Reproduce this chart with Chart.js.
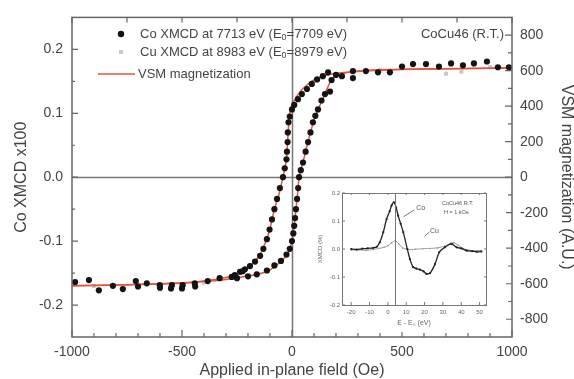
<!DOCTYPE html>
<html><head><meta charset="utf-8">
<script src="https://cdn.jsdelivr.net/npm/chart.js@4.4.1/dist/chart.umd.min.js"></script>
<style>
html,body{margin:0;padding:0;background:#fff;}
#wrap{position:relative;width:574px;height:379px;overflow:hidden;}
#main{position:absolute;left:0;top:0;}
#inset{position:absolute;left:312px;top:186px;background:#fff;}
</style></head><body>
<div id="wrap"><canvas id="main" width="574" height="379"></canvas><canvas id="inset" width="194" height="146"></canvas></div>
<script>
// ---------- data ----------
const fieldTicks = [-1000, -500, 0, 500, 1000];
const xmcdTicks = [-0.2, -0.1, 0, 0.1, 0.2];
const vsmTicks = [-800, -600, -400, -200, 0, 200, 400, 600, 800];

const coH = [986,936,886,827,777,723,668,609,550,500,445,391,336,277,277,227,200,
  164,140,114,90,68,45,27,10,0,-10,-16,-19,-20,-23,-25,-33,-41,-55,-68,-80,-91,-102,-114,-130,-145,-168,-191,-214,-236,-260,
  -250,-200,-160,-114,-80,-50,-25,-10,0,6,10,14,18,23,28,32,40,50,62,73,84,95,106,118,134,150,173,180,
  -224,-274,-329,-383,-442,-497,-546,-601,-660,-710,-769,-814,-878,-923,-986,-440,-500,-550,-600,-700];
const coV = [0.172,0.172,0.181,0.178,0.175,0.178,0.173,0.177,0.177,0.173,0.164,0.164,0.166,0.166,0.155,0.158,0.160,
  0.164,0.158,0.153,0.146,0.138,0.130,0.122,0.113,0.106,0.095,0.086,0.070,0.055,0.040,0.028,0.014,0.0,-0.017,-0.034,-0.050,-0.066,-0.082,-0.097,-0.112,-0.123,-0.132,-0.139,-0.144,-0.148,-0.153,
  -0.158,-0.155,-0.152,-0.146,-0.138,-0.131,-0.121,-0.112,-0.100,-0.088,-0.076,-0.064,-0.050,-0.034,-0.017,0.0,0.011,0.023,0.040,0.055,0.070,0.086,0.096,0.106,0.120,0.130,0.134,0.152,
  -0.147,-0.156,-0.158,-0.1625,-0.166,-0.169,-0.169,-0.169,-0.166,-0.1625,-0.175,-0.170,-0.177,-0.161,-0.164,-0.171,-0.174,-0.174,-0.173,-0.171];

const cuH = [-900,-700,-400,400,700,770,900];
const cuV = [-0.170,-0.168,-0.165,0.168,0.162,0.165,0.172];

const vsmDownH = [1000,800,600,400,300,200,150,100,50,20,0,-12,-18,-24,-32,-41,-60,-80,-100,-120,-150,-200,-250,-300,-400,-500,-700,-1000];
const vsmDownM = [615,612,610,602,596,586,572,548,500,452,405,350,240,120,50,0,-100,-180,-290,-365,-445,-510,-545,-565,-585,-595,-605,-612];
const vsmUpH = [-1000,-700,-500,-400,-300,-200,-150,-100,-50,-20,0,6,10,14,18,23,28,32,50,73,100,120,150,175,200,250,300,400,600,800,1000];
const vsmUpM = [-612,-605,-597,-588,-576,-556,-545,-522,-475,-430,-360,-315,-275,-230,-180,-122,-60,0,85,200,320,385,470,540,572,590,598,605,610,612,615];

// inset (spectra)
const energyTicks = [-20,-10,0,10,20,30,40,50];
const insetYTicks = [-0.2,-0.1,0.0,0.1,0.2];
const coE = [-20,-17,-14,-11,-8,-6,-4.4,-2.5,-0.7,1,2,3.3,4.5,5.6,7,8.4,10.6,12,13.8,15.5,17.5,19.5,21.1,23,25.7,28,31.1,34.8,37.5,40,43,46,48.5,51];
const coSpec = [0,-0.002,0.001,0.002,0.004,0.008,0.024,0.06,0.107,0.135,0.155,0.167,0.148,0.119,0.09,0.06,0.0,-0.036,-0.065,-0.07,-0.074,-0.08,-0.089,-0.086,-0.054,-0.012,0.006,0.018,0.006,0.002,-0.006,-0.008,-0.01,-0.009];
const cuE = [-20,-16,-12,-8,-5,-2,0,2,4,6,8,11,15,19,23,27,31,34,36,38,41,45,49,51];
const cuSpec = [-0.004,-0.003,-0.005,-0.002,0.002,0.006,0.012,0.022,0.03,0.018,0.004,-0.002,-0.001,0.001,0.002,0.004,0.01,0.02,0.022,0.015,0.002,-0.005,-0.006,-0.006];

// ---------- helpers ----------
const FONT = "'Liberation Sans', Arial, Helvetica, sans-serif";
const TXT = '#444';
const pts = (xs, ys) => xs.map((v, i) => ({x: v, y: ys[i]}));
const setTicks = arr => s => { s.ticks = arr.map(v => ({value: v})); };

const mainDecor = {
  id: 'mainDecor',
  beforeDatasetsDraw(c) {
    const {ctx, chartArea: a, scales: {x, y}} = c;
    ctx.save();
    ctx.strokeStyle = '#777'; ctx.lineWidth = 1.5;
    const y0 = Math.round(y.getPixelForValue(0)) + 0.5, x0 = Math.round(x.getPixelForValue(0)) + 0.5;
    ctx.beginPath();
    ctx.moveTo(a.left, y0); ctx.lineTo(a.right, y0);
    ctx.moveTo(x0, a.top); ctx.lineTo(x0, a.bottom);
    ctx.stroke();
    ctx.restore();
  },
  afterDatasetsDraw(c) {
    const {ctx, chartArea: a, scales: {x, y, y2}} = c;
    ctx.save();
    ctx.strokeStyle = '#666'; ctx.lineWidth = 1.5;
    ctx.strokeRect(a.left, a.top, a.right - a.left, a.bottom - a.top);
    ctx.lineWidth = 1.2;
    ctx.beginPath();
    for (let v = -1000; v <= 1000; v += 100) {
      const px = x.getPixelForValue(v);
      const len = v % 500 === 0 ? 7 : 4;
      ctx.moveTo(px, a.bottom); ctx.lineTo(px, a.bottom - len);
    }
    for (let v = -1000; v <= 1000; v += 250) {
      const px = x.getPixelForValue(v);
      ctx.moveTo(px, a.top); ctx.lineTo(px, a.top + 5);
    }
    for (let i = -4; i <= 4; i++) {
      const py = y.getPixelForValue(i * 0.05);
      const len = i % 2 === 0 ? 6 : 3;
      ctx.moveTo(a.left, py); ctx.lineTo(a.left + len, py);
    }
    for (let v = -800; v <= 800; v += 100) {
      const py = y2.getPixelForValue(v);
      const len = v % 200 === 0 ? 7 : 4;
      ctx.moveTo(a.right, py); ctx.lineTo(a.right - len, py);
    }
    ctx.stroke();
    ctx.restore();
  },
  afterDraw(c) {
    const ctx = c.ctx;
    ctx.save();
    ctx.fillStyle = TXT; ctx.textBaseline = 'middle'; ctx.textAlign = 'left';
    const sub = (pre, s, post, x, yy) => {
      ctx.font = `13px ${FONT}`;
      ctx.fillText(pre, x, yy);
      let w = ctx.measureText(pre).width;
      ctx.font = `9px ${FONT}`;
      ctx.fillText(s, x + w, yy + 4);
      w += ctx.measureText(s).width;
      ctx.font = `13px ${FONT}`;
      ctx.fillText(post, x + w, yy);
    };
    // marker rows
    ctx.fillStyle = '#111';
    ctx.beginPath(); ctx.arc(121, 34, 3.2, 0, Math.PI * 2); ctx.fill();
    ctx.fillStyle = '#c8c8c8';
    ctx.fillRect(119, 50, 4, 4);
    ctx.strokeStyle = '#e0553d'; ctx.lineWidth = 1.5;
    ctx.beginPath(); ctx.moveTo(98, 74); ctx.lineTo(135, 74); ctx.stroke();
    ctx.fillStyle = TXT;
    sub('Co XMCD at 7713 eV (E', '0', '=7709 eV)', 140, 34);
    sub('Cu XMCD at 8983 eV (E', '0', '=8979 eV)', 140, 52);
    ctx.font = `13px ${FONT}`;
    ctx.fillText('VSM magnetization', 138, 74);
    ctx.textAlign = 'right';
    ctx.fillText('CoCu46 (R.T.)', 504, 34);
    ctx.restore();
  }
};

new Chart(document.getElementById('main'), {
  type: 'scatter',
  data: {
    datasets: [
      {label: 'Co XMCD', data: pts(coH, coV), yAxisID: 'y', order: 1,
       pointRadius: 3.1, pointBackgroundColor: '#141414', pointBorderColor: '#141414', pointBorderWidth: 0, showLine: false},
      {label: 'VSM down', data: pts(vsmDownH, vsmDownM), yAxisID: 'y2', order: 2, showLine: true,
       borderColor: '#e0553d', borderWidth: 1.5, pointRadius: 0, tension: 0.15},
      {label: 'VSM up', data: pts(vsmUpH, vsmUpM), yAxisID: 'y2', order: 2, showLine: true,
       borderColor: '#e0553d', borderWidth: 1.5, pointRadius: 0, tension: 0.15},
      {label: 'Cu XMCD', data: pts(cuH, cuV), yAxisID: 'y', order: 3,
       pointStyle: 'rect', pointRadius: 2.2, pointBackgroundColor: '#c8c8c8', pointBorderColor: '#c8c8c8', showLine: false}
    ]
  },
  options: {
    responsive: false, animation: false, devicePixelRatio: 1,
    layout: {padding: {top: 17, left: 0, right: 0, bottom: 0}},
    plugins: {legend: {display: false}, tooltip: {enabled: false}},
    scales: {
      x: {type: 'linear', min: -1000, max: 1000, position: 'bottom',
          afterBuildTicks: setTicks(fieldTicks), afterFit: s => { s.height = 42; },
          grid: {display: false, drawTicks: false}, border: {display: false},
          ticks: {color: TXT, font: {size: 14, family: FONT}, padding: 7, maxRotation: 0, callback: v => String(v)},
          title: {display: true, text: 'Applied in-plane field (Oe)', color: TXT, font: {size: 16, family: FONT, lineHeight: 1}, padding: {top: 0, bottom: 0}}},
      y: {type: 'linear', min: -0.25, max: 0.25, position: 'left',
          afterBuildTicks: setTicks(xmcdTicks), afterFit: s => { s.width = 72; },
          grid: {display: false, drawTicks: false}, border: {display: false},
          ticks: {color: TXT, font: {size: 14, family: FONT}, padding: 9, callback: v => v.toFixed(1)},
          title: {display: true, text: 'Co XMCD x100', color: TXT, font: {size: 16, family: FONT, lineHeight: 1}, padding: {top: 14, bottom: 0}}},
      y2: {type: 'linear', min: -900, max: 900, position: 'right',
          afterBuildTicks: setTicks(vsmTicks), afterFit: s => { s.width = 62; },
          grid: {display: false, drawTicks: false}, border: {display: false},
          ticks: {color: TXT, font: {size: 14, family: FONT}, padding: 8, callback: v => String(v)},
          title: {display: true, text: 'VSM magnetization (A.U.)', color: TXT, font: {size: 16, family: FONT, lineHeight: 1}, padding: {top: 0, bottom: 0}}}
    }
  },
  plugins: [mainDecor]
});

// ---------- inset ----------
const insetDecor = {
  id: 'insetDecor',
  afterDatasetsDraw(c) {
    const {ctx, chartArea: a, scales: {x, y}} = c;
    ctx.save();
    ctx.strokeStyle = '#777'; ctx.lineWidth = 1;
    ctx.strokeRect(a.left + 0.5, a.top + 0.5, a.right - a.left, a.bottom - a.top);
    const xv = Math.round(x.getPixelForValue(4)) + 0.5;
    ctx.beginPath(); ctx.moveTo(xv, a.top); ctx.lineTo(xv, a.bottom);
    energyTicks.forEach(v => { const px = x.getPixelForValue(v); ctx.moveTo(px, a.bottom); ctx.lineTo(px, a.bottom - 3); ctx.moveTo(px, a.top); ctx.lineTo(px, a.top + 2); });
    insetYTicks.forEach(v => { const py = y.getPixelForValue(v); ctx.moveTo(a.left, py); ctx.lineTo(a.left + 3, py); ctx.moveTo(a.right, py); ctx.lineTo(a.right - 2, py); });
    ctx.stroke();
    // leader lines
    ctx.strokeStyle = '#555'; ctx.lineWidth = 0.8;
    ctx.beginPath();
    ctx.moveTo(x.getPixelForValue(8.5), y.getPixelForValue(0.115)); ctx.lineTo(x.getPixelForValue(14.5), y.getPixelForValue(0.14));
    ctx.moveTo(x.getPixelForValue(20), y.getPixelForValue(0.045)); ctx.lineTo(x.getPixelForValue(22.5), y.getPixelForValue(0.06));
    ctx.stroke();
    ctx.fillStyle = '#555'; ctx.textBaseline = 'middle'; ctx.textAlign = 'left';
    ctx.font = `7px ${FONT}`;
    ctx.fillText('Co', x.getPixelForValue(15.5), y.getPixelForValue(0.145));
    ctx.fillText('Cu', x.getPixelForValue(23), y.getPixelForValue(0.065));
    ctx.font = `5.5px ${FONT}`;
    ctx.fillText('CoCu46 R.T.', 130, 17);
    ctx.fillText('H = 1 kOe', 132, 26);
    ctx.restore();
  }
};

new Chart(document.getElementById('inset'), {
  type: 'scatter',
  data: {
    datasets: [
      {label: 'Co', data: pts(coE, coSpec), showLine: true, borderColor: '#222', borderWidth: 1.3,
       pointRadius: 1.1, pointBackgroundColor: '#222', pointBorderWidth: 0, tension: 0.2, order: 1},
      {label: 'Cu', data: pts(cuE, cuSpec), showLine: true, borderColor: '#9a9a9a', borderWidth: 1,
       pointRadius: 0.8, pointBackgroundColor: '#9a9a9a', pointBorderWidth: 0, tension: 0.2, order: 2}
    ]
  },
  options: {
    responsive: false, animation: false, devicePixelRatio: 1,
    layout: {padding: {top: 7, right: 20, left: 0, bottom: 0}},
    plugins: {legend: {display: false}, tooltip: {enabled: false}},
    scales: {
      x: {type: 'linear', min: -25, max: 53.5, afterBuildTicks: setTicks(energyTicks), afterFit: s => { s.height = 27; },
          grid: {display: false, drawTicks: false}, border: {display: false},
          ticks: {color: '#666', font: {size: 6, family: FONT}, padding: 4, maxRotation: 0, callback: v => String(v)},
          title: {display: true, text: 'E - E\u2080 (eV)', color: '#666', font: {size: 7, family: FONT, lineHeight: 1}, padding: {top: 0, bottom: 5}}},
      y: {type: 'linear', min: -0.2, max: 0.2, afterBuildTicks: setTicks(insetYTicks), afterFit: s => { s.width = 30; },
          grid: {display: false, drawTicks: false}, border: {display: false},
          ticks: {color: '#666', font: {size: 6, family: FONT}, padding: 2, callback: v => v.toFixed(1)},
          title: {display: true, text: 'XMCD (%)', color: '#666', font: {size: 6, family: FONT, lineHeight: 1}, padding: {top: 5, bottom: 0}}}
    }
  },
  plugins: [insetDecor]
});
</script>
</body></html>
